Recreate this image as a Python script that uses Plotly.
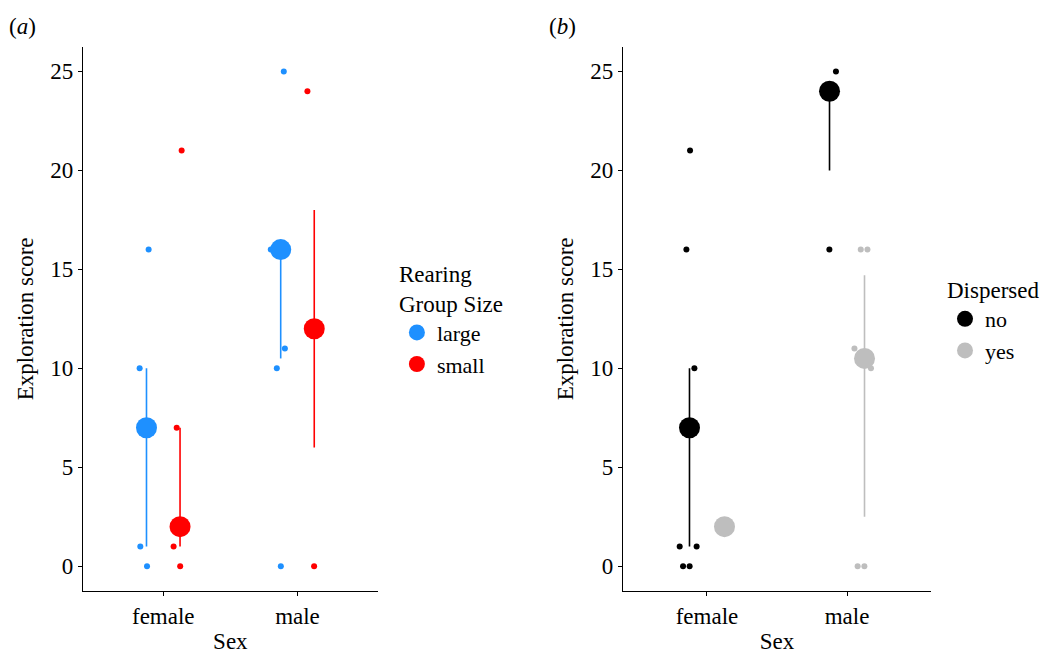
import plotly.graph_objects as go

# ---------------- data ----------------
sex_categories = ["female", "male"]
sex_positions = [1, 2]
y_ticks = [0, 5, 10, 15, 20, 25]

# Panel (a): rearing group size
a_groups = ["large", "small"]
a_colors = ["#1E90FF", "#FF0000"]
a_large_female_scores = [16, 10, 1, 0]
a_large_female_jitter = [-0.109, -0.176, -0.171, -0.121]
a_small_female_scores = [21, 7, 1, 0]
a_small_female_jitter = [0.137, 0.100, 0.077, 0.126]
a_large_male_scores = [25, 16, 11, 10, 0]
a_large_male_jitter = [-0.102, -0.199, -0.094, -0.154, -0.124]
a_small_male_scores = [24, 0]
a_small_male_jitter = [0.074, 0.124]
a_large_center = [7, 16]
a_large_low = [1, 10.5]
a_large_high = [10, 16]
a_small_center = [2, 12]
a_small_low = [1, 6]
a_small_high = [7, 18]

# Panel (b): dispersed
b_groups = ["no", "yes"]
b_colors = ["#000000", "#BEBEBE"]
b_no_female_scores = [21, 16, 10, 1, 1, 0, 0]
b_no_female_jitter = [-0.121, -0.147, -0.090, -0.195, -0.074, -0.171, -0.124]
b_yes_female_scores = [2]
b_yes_female_jitter = [0.125]
b_no_male_scores = [25, 16]
b_no_male_jitter = [-0.079, -0.126]
b_yes_male_scores = [16, 16, 11, 10, 0, 0]
b_yes_male_jitter = [0.098, 0.146, 0.053, 0.171, 0.076, 0.124]
b_no_center = [7, 24]
b_no_low = [1, 20]
b_no_high = [10, 24]
b_yes_center = [2, 10.5]
b_yes_low = [2, 2.5]
b_yes_high = [2, 14.7]

dodge = 0.125
FONT = "Liberation Serif"

fig = go.Figure()


def add_points(scores_f, jit_f, scores_m, jit_m, color, xa, ya):
    xs = [sex_positions[0] + j for j in jit_f] + [sex_positions[1] + j for j in jit_m]
    ys = list(scores_f) + list(scores_m)
    fig.add_trace(go.Scatter(x=xs, y=ys, mode="markers", xaxis=xa, yaxis=ya,
                             marker=dict(size=6, color=color), showlegend=False,
                             hoverinfo="skip"))


def add_summary(center, low, high, color, offset, name, xa, ya, legend):
    xs = [p + offset for p in sex_positions]
    fig.add_trace(go.Scatter(
        x=xs, y=center, mode="markers", name=name, xaxis=xa, yaxis=ya,
        legend=legend,
        marker=dict(size=21, color=color),
        error_y=dict(type="data", symmetric=False,
                     array=[h - c for h, c in zip(high, center)],
                     arrayminus=[c - l for c, l in zip(center, low)],
                     width=0, thickness=1.6, color=color)))


# panel a
add_points(a_large_female_scores, a_large_female_jitter, a_large_male_scores, a_large_male_jitter, a_colors[0], "x", "y")
add_points(a_small_female_scores, a_small_female_jitter, a_small_male_scores, a_small_male_jitter, a_colors[1], "x", "y")
add_summary(a_large_center, a_large_low, a_large_high, a_colors[0], -dodge, a_groups[0], "x", "y", "legend")
add_summary(a_small_center, a_small_low, a_small_high, a_colors[1], dodge, a_groups[1], "x", "y", "legend")

# panel b
add_points(b_no_female_scores, b_no_female_jitter, b_no_male_scores, b_no_male_jitter, b_colors[0], "x2", "y2")
add_points(b_yes_female_scores, b_yes_female_jitter, b_yes_male_scores, b_yes_male_jitter, b_colors[1], "x2", "y2")
add_summary(b_no_center, b_no_low, b_no_high, b_colors[0], -dodge, b_groups[0], "x2", "y2", "legend2")
add_summary(b_yes_center, b_yes_low, b_yes_high, b_colors[1], dodge, b_groups[1], "x2", "y2", "legend2")

xaxis_common = dict(range=[0.4, 2.6], tickvals=sex_positions, ticktext=sex_categories,
                    showline=True, linecolor="black", linewidth=1, ticks="outside",
                    ticklen=4, tickcolor="black", showgrid=False, zeroline=False,
                    tickfont=dict(size=23, color="black", family=FONT),
                    title=dict(text="Sex", font=dict(size=23, color="black", family=FONT), standoff=10))
yaxis_common = dict(range=[-1.25, 26.25], tickvals=y_ticks,
                    showline=True, linecolor="black", linewidth=1, ticks="outside",
                    ticklen=4, tickcolor="black", showgrid=False, zeroline=False,
                    tickfont=dict(size=23, color="black", family=FONT),
                    title=dict(text="Exploration score", font=dict(size=23, color="black", family=FONT), standoff=10),
                    domain=[0.0963, 0.9286])

fig.update_layout(
    width=1050, height=654, autosize=False,
    margin=dict(l=0, r=0, t=0, b=0),
    paper_bgcolor="white", plot_bgcolor="white",
    font=dict(family=FONT, color="black", size=22),
    xaxis=dict(xaxis_common, domain=[0.0788, 0.360], anchor="y"),
    yaxis=dict(yaxis_common, anchor="x"),
    xaxis2=dict(xaxis_common, domain=[0.5933, 0.8867], anchor="y2"),
    yaxis2=dict(yaxis_common, anchor="x2"),
    legend=dict(x=0.378, y=0.615, xanchor="left", yanchor="top",
                title=dict(text="Rearing<br>Group Size", font=dict(size=23, family=FONT)),
                font=dict(size=22, family=FONT), itemsizing="trace", bgcolor="rgba(0,0,0,0)"),
    legend2=dict(x=0.900, y=0.590, xanchor="left", yanchor="top",
                 title=dict(text="Dispersed", font=dict(size=23, family=FONT)),
                 font=dict(size=22, family=FONT), itemsizing="trace", bgcolor="rgba(0,0,0,0)"),
    annotations=[
        dict(text="(<i>a</i>)", x=0.007, y=0.959, xref="paper", yref="paper",
             xanchor="left", yanchor="middle", showarrow=False, font=dict(size=23, family=FONT)),
        dict(text="(<i>b</i>)", x=0.521, y=0.959, xref="paper", yref="paper",
             xanchor="left", yanchor="middle", showarrow=False, font=dict(size=23, family=FONT)),
    ],
)

fig.write_html("out.html")
